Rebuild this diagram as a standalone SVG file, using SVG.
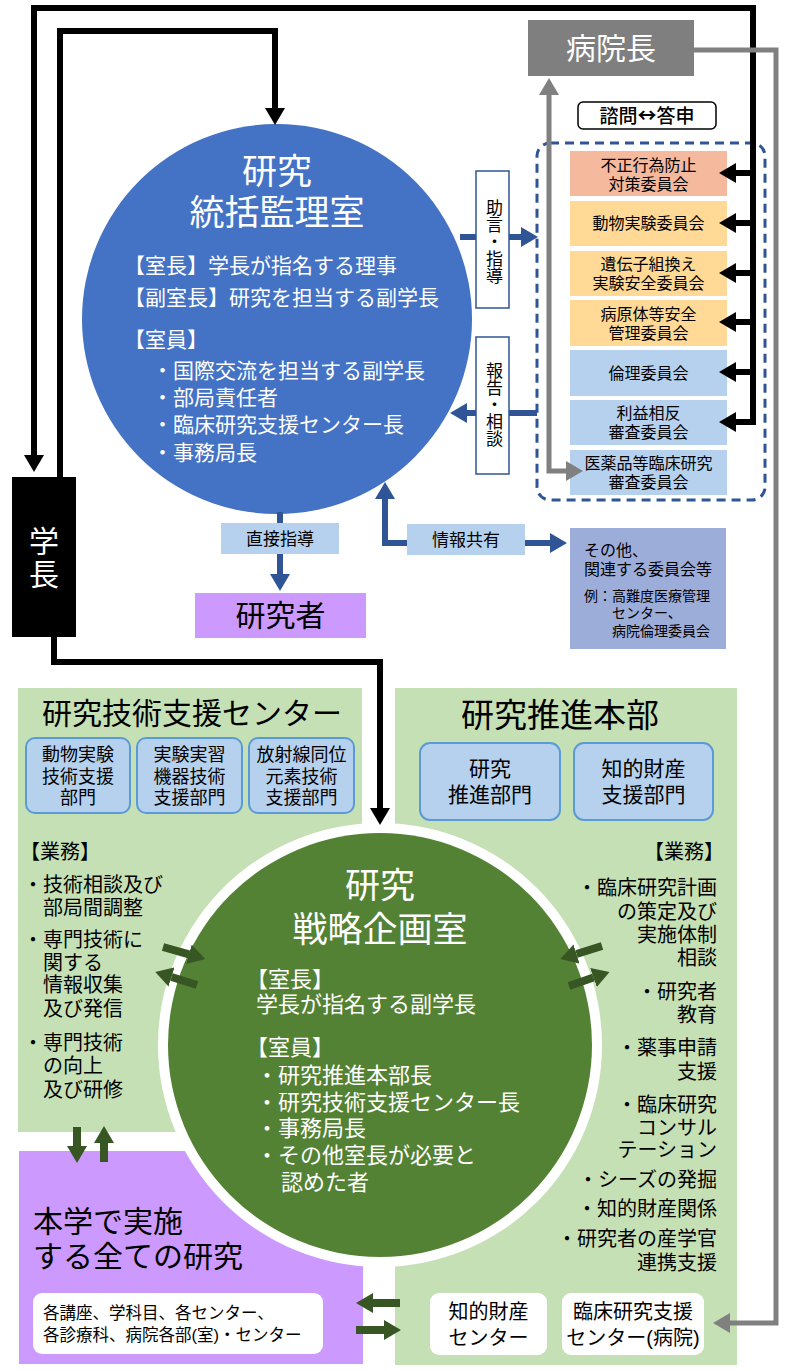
<svg xmlns="http://www.w3.org/2000/svg" width="800" height="1371" viewBox="0 0 800 1371">
<defs>
<style>
text{font-family:"Liberation Sans","Noto Sans CJK JP",sans-serif;fill:#000}
.wt{fill:#fff}
.c{text-anchor:middle}
.r{text-anchor:end}
.vt{writing-mode:vertical-rl;text-anchor:middle;font-size:17px}
.blk{fill:none;stroke:#000;stroke-width:6}
.blu{fill:none;stroke:#2f5597;stroke-width:6}
.gry{fill:none;stroke:#808080;stroke-width:5}
.grn{fill:none;stroke:#375623;stroke-width:8}
.sub{fill:#b5d1ee;stroke:#5b9bd5;stroke-width:2}
.sal{fill:#f5b99d}
.org{fill:#ffd995}
.lb{fill:#b5d1ee}
.gp{fill:#c5e0b4}
.wb{fill:#fff}
.f16{font-size:16px}
.f20{font-size:20px}
</style>
<marker id="ak" markerUnits="userSpaceOnUse" markerWidth="17" markerHeight="20" viewBox="0 -10 17 20" refX="0" refY="0" orient="auto"><path d="M0,-10L17,0L0,10z" fill="#000"/></marker>
<marker id="ab" markerUnits="userSpaceOnUse" markerWidth="17" markerHeight="20" viewBox="0 -10 17 20" refX="0" refY="0" orient="auto-start-reverse"><path d="M0,-10L17,0L0,10z" fill="#2f5597"/></marker>
<marker id="ag" markerUnits="userSpaceOnUse" markerWidth="17" markerHeight="20" viewBox="0 -10 17 20" refX="0" refY="0" orient="auto-start-reverse"><path d="M0,-10L17,0L0,10z" fill="#808080"/></marker>
<marker id="an" markerUnits="userSpaceOnUse" markerWidth="17" markerHeight="20" viewBox="0 -10 17 20" refX="0" refY="0" orient="auto"><path d="M0,-10L17,0L0,10z" fill="#375623"/></marker>
</defs>
<rect x="0" y="0" width="800" height="1371" fill="#fff"/>

<!-- bottom panels -->
<g id="gijutsu-center">
<rect class="gp" x="18" y="688" width="344" height="444"/>
</g>
<g id="suishin-honbu">
<rect class="gp" x="395" y="688" width="342" height="677"/>
</g>
<g id="all-research">
<rect x="19" y="1151" width="344" height="213" fill="#cc99ff"/>
</g>

<g id="senryaku-kikaku">
<circle cx="380" cy="1045" r="222" fill="#fff"/>
<circle cx="380" cy="1045" r="212" fill="#548235"/>
<text class="wt c" style="font-size:35px"><tspan x="380" y="898">研究</tspan><tspan x="380" y="942">戦略企画室</tspan></text>
<text class="wt" style="font-size:22px"><tspan x="246" y="987">【室長】</tspan><tspan x="256" y="1012">学長が指名する副学長</tspan><tspan x="246" y="1055">【室員】</tspan><tspan x="256" y="1083">・研究推進本部長</tspan><tspan x="256" y="1110">・研究技術支援センター長</tspan><tspan x="256" y="1136">・事務局長</tspan><tspan x="256" y="1163">・その他室長が必要と</tspan><tspan x="281" y="1190">認めた者</tspan></text>
</g>

<g id="gijutsu-center-content">
<text class="c" x="192" y="724" style="font-size:30px">研究技術支援センター</text>
<rect class="sub" x="26" y="738" width="104" height="75" rx="9"/>
<rect class="sub" x="137" y="738" width="105" height="75" rx="9"/>
<rect class="sub" x="249" y="738" width="105" height="75" rx="9"/>
<text class="c" style="font-size:18px"><tspan x="78" y="761">動物実験</tspan><tspan x="78" y="783">技術支援</tspan><tspan x="78" y="804">部門</tspan></text>
<text class="c" style="font-size:18px"><tspan x="189.5" y="761">実験実習</tspan><tspan x="189.5" y="783">機器技術</tspan><tspan x="189.5" y="804">支援部門</tspan></text>
<text class="c" style="font-size:18px"><tspan x="301.5" y="761">放射線同位</tspan><tspan x="301.5" y="783">元素技術</tspan><tspan x="301.5" y="804">支援部門</tspan></text>
<text class="f20" x="20" y="859">【業務】</text>
<text class="f20"><tspan x="23" y="892">・技術相談及び</tspan><tspan x="43" y="915">部局間調整</tspan></text>
<text class="f20"><tspan x="23" y="947">・専門技術に</tspan><tspan x="43" y="970">関する</tspan><tspan x="43" y="992">情報収集</tspan><tspan x="43" y="1016">及び発信</tspan></text>
<text class="f20"><tspan x="23" y="1050">・専門技術</tspan><tspan x="43" y="1073">の向上</tspan><tspan x="43" y="1097">及び研修</tspan></text>
</g>

<g id="suishin-honbu-content">
<text class="c" x="560" y="727" style="font-size:33px">研究推進本部</text>
<rect class="sub" x="420" y="743" width="140" height="77" rx="10"/>
<rect class="sub" x="574" y="743" width="139" height="77" rx="10"/>
<text class="c" style="font-size:21px"><tspan x="490" y="776">研究</tspan><tspan x="490" y="802">推進部門</tspan></text>
<text class="c" style="font-size:21px"><tspan x="643.5" y="776">知的財産</tspan><tspan x="643.5" y="802">支援部門</tspan></text>
<text class="r f20" x="724" y="859">【業務】</text>
<text class="r f20"><tspan x="717" y="895">・臨床研究計画</tspan><tspan x="717" y="919">の策定及び</tspan><tspan x="717" y="942">実施体制</tspan><tspan x="717" y="965">相談</tspan></text>
<text class="r f20"><tspan x="717" y="999">・研究者</tspan><tspan x="717" y="1022">教育</tspan></text>
<text class="r f20"><tspan x="717" y="1055">・薬事申請</tspan><tspan x="717" y="1079">支援</tspan></text>
<text class="r f20"><tspan x="717" y="1112">・臨床研究</tspan><tspan x="717" y="1135">コンサル</tspan><tspan x="717" y="1157">テーション</tspan></text>
<text class="r f20"><tspan x="717" y="1187">・シーズの発掘</tspan><tspan x="717" y="1216">・知的財産関係</tspan></text>
<text class="r f20"><tspan x="717" y="1246">・研究者の産学官</tspan><tspan x="717" y="1270">連携支援</tspan></text>
</g>

<g id="all-research-content">
<text style="font-size:30px"><tspan x="33" y="1232">本学で実施</tspan><tspan x="33" y="1267">する全ての研究</tspan></text>
<rect class="wb" x="33" y="1293" width="290" height="61" rx="9"/>
<text style="font-size:16.5px"><tspan x="43" y="1319">各講座、学科目、各センター、</tspan><tspan x="43" y="1341">各診療科、病院各部(室)・センター</tspan></text>
</g>

<g id="chizai-center">
<rect class="wb" x="430" y="1293" width="117" height="62" rx="9"/>
<text class="c f20"><tspan x="488.5" y="1319">知的財産</tspan><tspan x="488.5" y="1345">センター</tspan></text>
</g>
<g id="rinsho-center">
<rect class="wb" x="562" y="1293" width="142" height="62" rx="9"/>
<text class="c f20"><tspan x="633" y="1319">臨床研究支援</tspan><tspan x="633" y="1345">センター(病院)</tspan></text>
</g>

<!-- top area nodes -->
<g id="tokatsu-kanri">
<circle cx="277" cy="319" r="195" fill="#4472c4"/>
<text class="wt c" style="font-size:35px"><tspan x="277" y="184">研究</tspan><tspan x="277" y="225">統括監理室</tspan></text>
<text class="wt" style="font-size:21px"><tspan x="124" y="273">【室長】学長が指名する理事</tspan><tspan x="124" y="305">【副室長】研究を担当する副学長</tspan></text>
<text class="wt" style="font-size:21px"><tspan x="124" y="347">【室員】</tspan><tspan x="152" y="378">・国際交流を担当する副学長</tspan><tspan x="152" y="405">・部局責任者</tspan><tspan x="152" y="432">・臨床研究支援センター長</tspan><tspan x="152" y="460">・事務局長</tspan></text>
</g>

<g id="gakucho">
<rect x="12" y="477" width="64" height="160" fill="#000"/>
<text class="wt c" style="font-size:30px"><tspan x="44" y="552">学</tspan><tspan x="44" y="585">長</tspan></text>
</g>

<g id="byoincho">
<rect x="528" y="20" width="166" height="56" fill="#7f7f7f"/>
<text class="wt c" x="611" y="59" style="font-size:30px">病院長</text>
</g>

<g id="shimon">
<rect x="578" y="102" width="138" height="27" rx="5" fill="#fff" stroke="#000" stroke-width="1.5"/>
<text class="c" x="647" y="123" style="font-size:19px;font-weight:500">諮問<tspan style="font-family:'Noto Sans CJK JP',sans-serif;font-weight:bold">↔</tspan>答申</text>
</g>

<g id="committees">
<rect x="537" y="143" width="228" height="357" rx="13" fill="none" stroke="#2f5597" stroke-width="3" stroke-dasharray="9 6"/>
<g id="c1"><rect class="sal" x="570" y="151" width="157" height="45"/>
<text class="c f16"><tspan x="648.5" y="171">不正行為防止</tspan><tspan x="648.5" y="190">対策委員会</tspan></text></g>
<g id="c2"><rect class="org" x="570" y="201" width="157" height="45"/>
<text class="c f16" x="648.5" y="229">動物実験委員会</text></g>
<g id="c3"><rect class="org" x="570" y="251" width="157" height="45"/>
<text class="c f16"><tspan x="648.5" y="270">遺伝子組換え</tspan><tspan x="648.5" y="289">実験安全委員会</tspan></text></g>
<g id="c4"><rect class="org" x="570" y="300" width="157" height="46"/>
<text class="c f16"><tspan x="648.5" y="320">病原体等安全</tspan><tspan x="648.5" y="339">管理委員会</tspan></text></g>
<g id="c5"><rect class="lb" x="570" y="350" width="157" height="46"/>
<text class="c f16" x="648.5" y="379">倫理委員会</text></g>
<g id="c6"><rect class="lb" x="570" y="400" width="157" height="45"/>
<text class="c f16"><tspan x="648.5" y="419">利益相反</tspan><tspan x="648.5" y="438">審査委員会</tspan></text></g>
<g id="c7"><rect class="lb" x="570" y="450" width="157" height="45"/>
<text class="c f16"><tspan x="648.5" y="469">医薬品等臨床研究</tspan><tspan x="648.5" y="488">審査委員会</tspan></text></g>
</g>

<g id="others">
<rect x="570" y="528" width="156" height="121" fill="#9dadda"/>
<text class="f16"><tspan x="584" y="556">その他、</tspan><tspan x="584" y="575">関連する委員会等</tspan></text>
<text style="font-size:14px"><tspan x="584" y="601">例：高難度医療管理</tspan><tspan x="612" y="618">センター、</tspan><tspan x="612" y="636">病院倫理委員会</tspan></text>
</g>

<g id="kenkyusha">
<rect x="195" y="593" width="171" height="45" fill="#cc99ff"/>
<text class="c" x="280.5" y="626" style="font-size:30px">研究者</text>
</g>

<!-- connectors -->
<g id="connectors">
<path class="blk" d="M753,425 L753,8 L34,8 L34,455" marker-end="url(#ak)"/>
<path class="blk" d="M753,173 L736,173" marker-end="url(#ak)"/>
<path class="blk" d="M753,223 L736,223" marker-end="url(#ak)"/>
<path class="blk" d="M753,273 L736,273" marker-end="url(#ak)"/>
<path class="blk" d="M753,322 L736,322" marker-end="url(#ak)"/>
<path class="blk" d="M753,372 L736,372" marker-end="url(#ak)"/>
<path class="blk" d="M756,422 L736,422" marker-end="url(#ak)"/>
<path class="blk" d="M60,477 L60,31 L275,31 L275,108" marker-end="url(#ak)"/>
<path class="blk" d="M54,637 L54,662 L380,662 L380,808" marker-end="url(#ak)"/>

<path class="gry" d="M694,50 L776,50 L776,1323 L730,1323" marker-end="url(#ag)"/>
<path class="gry" d="M566,471 L549,471 L549,95" marker-start="url(#ag)" marker-end="url(#ag)"/>

<path class="blu" d="M460,237 L521,237" marker-end="url(#ab)"/>
<path class="blu" d="M537,413 L467,413" marker-end="url(#ab)"/>
<path class="blu" d="M280,512 L280,574" marker-end="url(#ab)"/>
<path class="blu" d="M550,543 L385,543 L385,499" marker-start="url(#ab)" marker-end="url(#ab)"/>

<path class="grn" d="M163,947 L189,954.3" marker-end="url(#an)"/>
<path class="grn" d="M197,985 L171.5,977" marker-end="url(#an)"/>
<path class="grn" d="M602,946 L576.5,954" marker-end="url(#an)"/>
<path class="grn" d="M569,986 L593.5,977.5" marker-end="url(#an)"/>
<path class="grn" d="M77,1127 L77,1146" marker-end="url(#an)"/>
<path class="grn" d="M104,1162 L104,1143" marker-end="url(#an)"/>
<path class="grn" d="M400,1303 L373,1303" marker-end="url(#an)"/>
<path class="grn" d="M356,1330 L384,1330" marker-end="url(#an)"/>
</g>

<g id="label-jogen">
<rect x="476" y="171" width="33" height="137" fill="#fff" stroke="#2f5597" stroke-width="1.5"/>
<text class="vt" x="492.5" y="242">助言・指導</text>
</g>
<g id="label-hokoku">
<rect x="476" y="337" width="33" height="137" fill="#fff" stroke="#2f5597" stroke-width="1.5"/>
<text class="vt" x="492.5" y="405">報告・相談</text>
</g>
<g id="label-chokusetsu">
<rect class="lb" x="221" y="523" width="118" height="31"/>
<text class="c" x="280" y="545" style="font-size:17px">直接指導</text>
</g>
<g id="label-joho">
<rect class="lb" x="407" y="524" width="118" height="31"/>
<text class="c" x="466" y="546" style="font-size:17px">情報共有</text>
</g>
</svg>
